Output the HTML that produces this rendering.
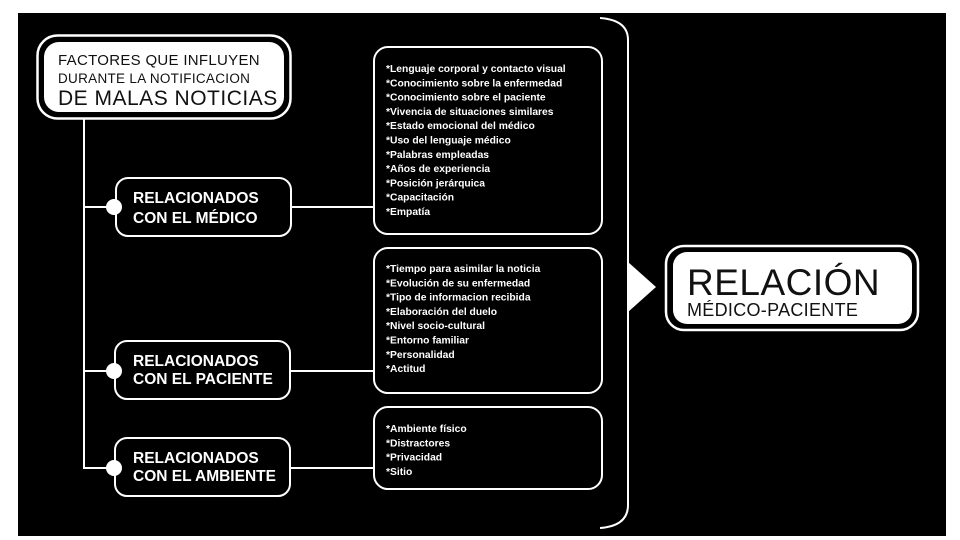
<!DOCTYPE html>
<html><head><meta charset="utf-8"><style>
html,body{margin:0;padding:0;background:#fff;}
svg{display:block}
text{font-family:"Liberation Sans",sans-serif;}
.l{font-size:10.3px;font-weight:bold;fill:#fff;}
.h{font-size:15.5px;font-weight:bold;fill:#fff;}
</style></head><body>
<svg width="960" height="540" viewBox="0 0 960 540" xmlns="http://www.w3.org/2000/svg">
<rect x="0" y="0" width="960" height="540" fill="#fff"/>
<rect x="18" y="13" width="928" height="523" fill="#000"/>
<!-- top box -->
<rect x="37.5" y="35.5" width="253" height="83" rx="20" fill="none" stroke="#fff" stroke-width="2.5"/>
<rect x="44" y="42" width="240" height="70" rx="15" fill="#fff"/>
<text x="58" y="65" font-size="15" fill="#111" letter-spacing="0.3">FACTORES QUE INFLUYEN</text>
<text x="58" y="83" font-size="13.5" fill="#111" letter-spacing="0.3">DURANTE LA NOTIFICACION</text>
<text x="58" y="105" font-size="21" fill="#111" letter-spacing="0.5">DE MALAS NOTICIAS</text>
<!-- trunk -->
<line x1="84" y1="118" x2="84" y2="469" stroke="#fff" stroke-width="2"/>
<line x1="84" y1="207" x2="116" y2="207" stroke="#fff" stroke-width="2"/>
<line x1="84" y1="371" x2="116" y2="371" stroke="#fff" stroke-width="2"/>
<line x1="84" y1="468" x2="116" y2="468" stroke="#fff" stroke-width="2"/>
<!-- branch boxes -->
<rect x="116" y="178" width="175" height="58" rx="12" fill="#000" stroke="#fff" stroke-width="2"/>
<rect x="115" y="341" width="175" height="58" rx="12" fill="#000" stroke="#fff" stroke-width="2"/>
<rect x="115" y="438" width="175" height="58" rx="12" fill="#000" stroke="#fff" stroke-width="2"/>
<circle cx="114" cy="207" r="8" fill="#fff"/>
<circle cx="114" cy="371" r="8" fill="#fff"/>
<circle cx="114" cy="468" r="8" fill="#fff"/>
<text class="h" x="133" y="203">RELACIONADOS</text>
<text class="h" x="133" y="223">CON EL MÉDICO</text>
<text class="h" x="133" y="366">RELACIONADOS</text>
<text class="h" x="133" y="384" font-size="14.5">CON EL PACIENTE</text>
<text class="h" x="133" y="463">RELACIONADOS</text>
<text class="h" x="133" y="481" font-size="14.5">CON EL AMBIENTE</text>
<line x1="291" y1="207" x2="374" y2="207" stroke="#fff" stroke-width="2"/>
<line x1="290" y1="371" x2="374" y2="371" stroke="#fff" stroke-width="2"/>
<line x1="290" y1="468" x2="374" y2="468" stroke="#fff" stroke-width="2"/>
<!-- list boxes -->
<rect x="374" y="47" width="228" height="187" rx="14" fill="#000" stroke="#fff" stroke-width="2"/>
<rect x="374" y="248" width="228" height="145" rx="14" fill="#000" stroke="#fff" stroke-width="2"/>
<rect x="374" y="407" width="228" height="82" rx="14" fill="#000" stroke="#fff" stroke-width="2"/>
<g class="l">
<text class="l" x="386" y="72">*Lenguaje corporal y contacto visual</text>
<text class="l" x="386" y="86.3">*Conocimiento sobre la enfermedad</text>
<text class="l" x="386" y="100.6">*Conocimiento sobre el paciente</text>
<text class="l" x="386" y="114.9">*Vivencia de situaciones similares</text>
<text class="l" x="386" y="129.2">*Estado emocional del médico</text>
<text class="l" x="386" y="143.5">*Uso del lenguaje médico</text>
<text class="l" x="386" y="157.8">*Palabras empleadas</text>
<text class="l" x="386" y="172.1">*Años de experiencia</text>
<text class="l" x="386" y="186.4">*Posición jerárquica</text>
<text class="l" x="386" y="200.7">*Capacitación</text>
<text class="l" x="386" y="215">*Empatía</text>
<text class="l" x="386" y="272">*Tiempo para asimilar la noticia</text>
<text class="l" x="386" y="286.3">*Evolución de su enfermedad</text>
<text class="l" x="386" y="300.6">*Tipo de informacion recibida</text>
<text class="l" x="386" y="314.9">*Elaboración del duelo</text>
<text class="l" x="386" y="329.2">*Nivel socio-cultural</text>
<text class="l" x="386" y="343.5">*Entorno familiar</text>
<text class="l" x="386" y="357.8">*Personalidad</text>
<text class="l" x="386" y="372.1">*Actitud</text>
<text class="l" x="386" y="432">*Ambiente físico</text>
<text class="l" x="386" y="446.3">*Distractores</text>
<text class="l" x="386" y="460.6">*Privacidad</text>
<text class="l" x="386" y="474.9">*Sitio</text>
</g>
<!-- brace -->
<path d="M600 18 Q628 20 628 40 L628 505 Q628 526 600 528" fill="none" stroke="#fff" stroke-width="2"/>
<polygon points="628,262 656,287 628,312" fill="#fff"/>
<!-- relacion box -->
<rect x="666" y="246" width="252" height="84" rx="18" fill="none" stroke="#fff" stroke-width="2.5"/>
<rect x="673" y="252" width="239" height="72" rx="14" fill="#fff"/>
<text x="687" y="295" font-size="37" fill="#111" letter-spacing="0.5">RELACIÓN</text>
<text x="687" y="316" font-size="18" fill="#111" letter-spacing="0.3">MÉDICO-PACIENTE</text>
</svg>
</body></html>
